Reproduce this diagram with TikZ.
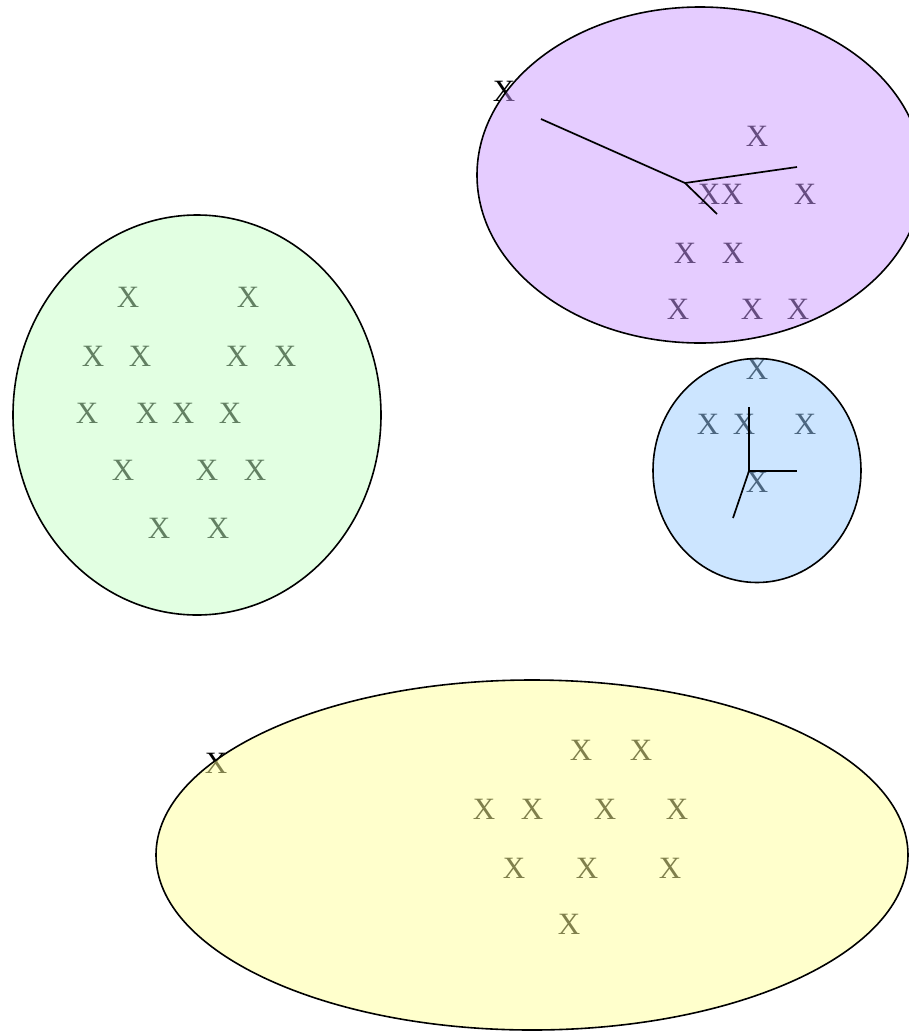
\documentclass[tikz,border=0pt]{standalone}
\usepackage{fontspec}
\setmainfont{Liberation Serif}
\begin{document}
\begin{tikzpicture}[x=1pt,y=-1pt,
  mk/.style={inner sep=0pt,outer sep=0pt,anchor=center,font=\fontsize{31}{31}\selectfont,text=black},
  blob/.style={draw=black,line width=1.6pt,fill opacity=0.5},
  hand/.style={draw=black,line width=1.7pt}]
\clip (0,0) rectangle (909,1031);
% --- marks (drawn first, tinted by the translucent blobs) ---
% purple group
\node[mk] (p0) at (504,91) {X};
\node[mk] (p1) at (757,136) {X};
\node[mk] (p2) at (709,194) {X};
\node[mk] (p3) at (732,194) {X};
\node[mk] (p4) at (805,194) {X};
\node[mk] (p5) at (685,253) {X};
\node[mk] (p6) at (733,253) {X};
\node[mk] (p7) at (678,309) {X};
\node[mk] (p8) at (752,309) {X};
\node[mk] (p9) at (798,309) {X};
% blue group
\node[mk] (b1) at (757,369) {X};
\node[mk] (b2) at (708,424) {X};
\node[mk] (b3) at (744,424) {X};
\node[mk] (b4) at (805,424) {X};
\node[mk] (b5) at (757,482) {X};
% green group
\node[mk] (g1) at (128,297) {X};
\node[mk] (g2) at (248,297) {X};
\node[mk] (g3) at (93,356) {X};
\node[mk] (g4) at (140,356) {X};
\node[mk] (g5) at (237,356) {X};
\node[mk] (g6) at (285,356) {X};
\node[mk] (g7) at (87,413) {X};
\node[mk] (g8) at (147,413) {X};
\node[mk] (g9) at (183,413) {X};
\node[mk] (g10) at (230,413) {X};
\node[mk] (g11) at (123,470) {X};
\node[mk] (g12) at (207,470) {X};
\node[mk] (g13) at (255,470) {X};
\node[mk] (g14) at (159,528) {X};
\node[mk] (g15) at (218,528) {X};
% yellow group
\node[mk] (y0) at (216,763) {X};
\node[mk] (y1) at (581,750) {X};
\node[mk] (y2) at (641,750) {X};
\node[mk] (y3) at (484,809) {X};
\node[mk] (y4) at (532,809) {X};
\node[mk] (y5) at (605,809) {X};
\node[mk] (y6) at (677,809) {X};
\node[mk] (y7) at (514,868) {X};
\node[mk] (y8) at (587,868) {X};
\node[mk] (y9) at (670,868) {X};
\node[mk] (y10) at (569,924) {X};
% --- translucent blobs ---
\path[blob,fill={rgb,255:red,203;green,153;blue,255}] (700,175) ellipse [x radius=223,y radius=168];
\path[blob,fill={rgb,255:red,153;green,204;blue,255}] (757,470.5) ellipse [x radius=104,y radius=112];
\path[blob,fill={rgb,255:red,197;green,255;blue,197}] (197,415) ellipse [x radius=184,y radius=200];
\path[blob,fill={rgb,255:red,255;green,255;blue,153}] (532,855) ellipse [x radius=376,y radius=175];
% --- hands ---
\coordinate (pc) at (685,183);
\coordinate (pa) at (541,119);
\coordinate (pb) at (797,167);
\coordinate (pd) at (717,214);
\draw[hand] (pa) -- (pc) -- (pb);
\draw[hand] (pc) -- (pd);
\coordinate (bc) at (749,471);
\coordinate (ba) at (749,407);
\coordinate (bb) at (797,471);
\coordinate (bd) at (733,518);
\draw[hand] (ba) -- (bc) -- (bb);
\draw[hand] (bc) -- (bd);
\end{tikzpicture}
\end{document}
